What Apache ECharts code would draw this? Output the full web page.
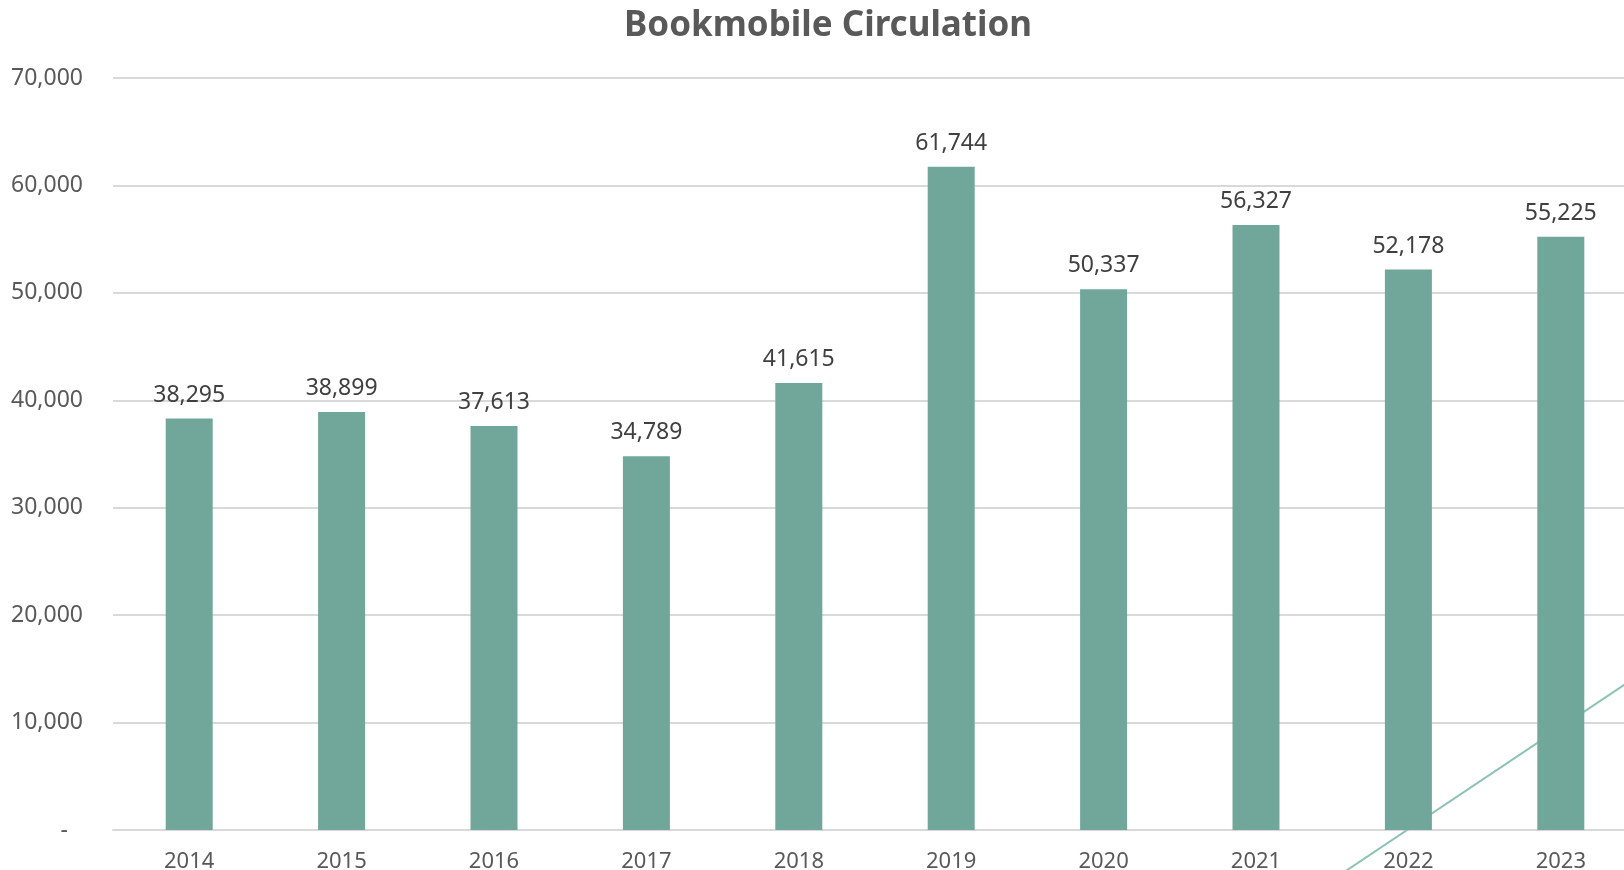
<!DOCTYPE html>
<html>
<head>
<meta charset="utf-8">
<title>Bookmobile Circulation</title>
<script src="https://cdn.jsdelivr.net/npm/echarts@6/dist/echarts.min.js"></script>
<style>
  html, body { margin: 0; padding: 0; background: #fff; }
  #chart { width: 1624px; height: 870px; }
</style>
</head>
<body>
<div id="chart"></div>
<script>
// chart data
const years = ['2014', '2015', '2016', '2017', '2018', '2019', '2020', '2021', '2022', '2023']
const circulation = [38295, 38899, 37613, 34789, 41615, 61744, 50337, 56327, 52178, 55225]
// trend line end points (x in category units, y in circulation)
const trendX = [7.5, 10]
const trendY = [-9400, 14300]

const chart = echarts.init(document.getElementById('chart'))

const fmt = (v) => v.toLocaleString('en-US')

const option = {
  animation: false,
  textStyle: { fontFamily: 'Noto Sans' },
  title: {
    text: 'Bookmobile Circulation',
    left: 619,
    top: 4,
    textStyle: {
      fontFamily: 'Noto Sans',
      fontSize: 35,
      fontWeight: 'bold',
      color: '#595959'
    }
  },
  grid: {
    left: 113,
    right: -13,
    top: 78,
    bottom: 40,
    outerBoundsMode: 'none'
  },
  xAxis: [
    {
      type: 'category',
      data: years,
      axisTick: { show: false },
      axisLine: { lineStyle: { color: '#d9d9d9', width: 2 } },
      axisLabel: {
        color: '#595959',
        fontSize: 22,
        margin: 21
      }
    },
    {
      type: 'value',
      min: 0,
      max: 10,
      show: false
    }
  ],
  yAxis: {
    type: 'value',
    min: 0,
    max: 70000,
    interval: 10000,
    axisLine: { show: false },
    axisTick: { show: false },
    splitLine: { lineStyle: { color: '#d9d9d9', width: 2 } },
    axisLabel: {
      color: '#595959',
      fontSize: 23,
      margin: 30,
      formatter: (v) => (v === 0 ? '{z|-}' : fmt(v)),
      rich: {
        z: { fontSize: 23, color: '#595959', padding: [0, 15, 0, 0] }
      }
    }
  },
  series: [
    {
      name: 'Trend',
      type: 'line',
      xAxisIndex: 1,
      data: trendX.map((x, i) => [x, trendY[i]]),
      symbol: 'none',
      clip: false,
      z: 1,
      lineStyle: { color: '#8ec3b4', width: 2 }
    },
    {
      name: 'Circulation',
      type: 'bar',
      data: circulation,
      barWidth: 47,
      z: 3,
      itemStyle: { color: '#71a79a' },
      label: {
        show: true,
        position: 'top',
        distance: 12,
        fontSize: 23,
        color: '#404040',
        formatter: (p) => fmt(p.value)
      }
    }
  ]
}

chart.setOption(option)
</script>
</body>
</html>
